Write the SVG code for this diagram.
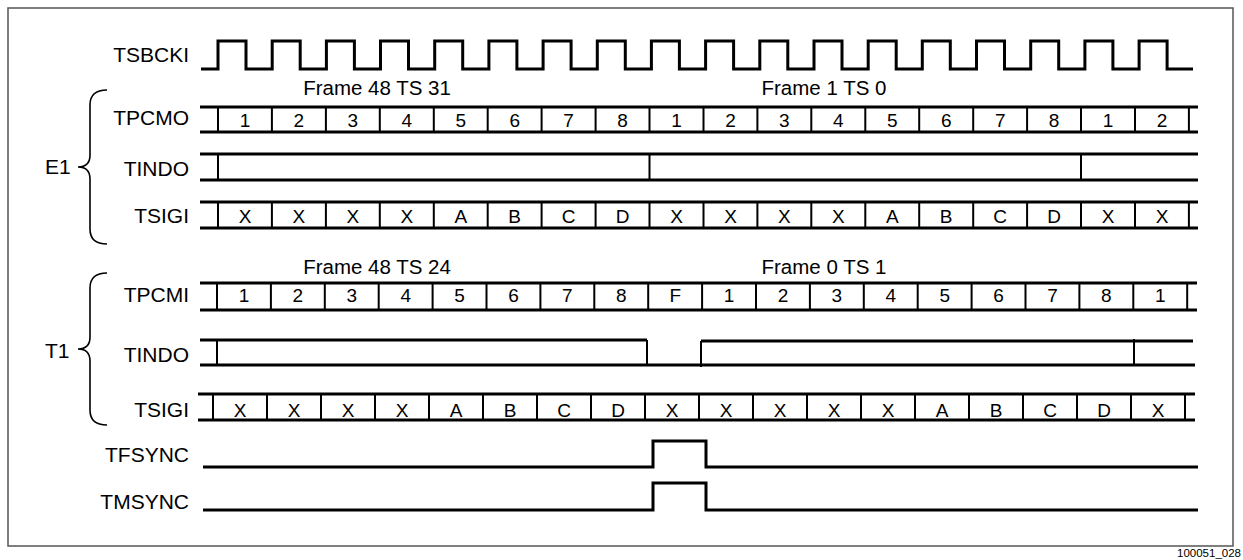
<svg xmlns="http://www.w3.org/2000/svg" width="1243" height="560" viewBox="0 0 1243 560">
<style>
text{font-family:"Liberation Sans",Arial,Helvetica,sans-serif;fill:#000}
.lbl{font-size:21px;text-anchor:end}
.grp{font-size:21px}
.frm{font-size:20.5px;text-anchor:middle}
.cell{font-size:19px;text-anchor:middle}
.sig{fill:none;stroke:#000;stroke-width:3;stroke-linejoin:miter;stroke-linecap:butt}
.div{fill:none;stroke:#000;stroke-width:2}
.brace{fill:none;stroke:#000;stroke-width:1.6}
.frame{fill:#fff;stroke:#555;stroke-width:1.5}
</style>
<rect class="frame" x="8" y="8" width="1225" height="538"/>

<g id="tsbcki">
<text class="lbl" x="189" y="62">TSBCKI</text>
<path class="sig" d="M201 69 H218 V41 H246 V69 H272.2 V41 H300.2 V69 H326.4 V41 H354.4 V69 H380.5 V41 H408.5 V69 H434.7 V41 H462.7 V69 H488.9 V41 H516.9 V69 H543.1 V41 H571.1 V69 H597.3 V41 H625.3 V69 H651.4 V41 H679.4 V69 H705.6 V41 H733.6 V69 H759.8 V41 H787.8 V69 H814 V41 H842 V69 H868.2 V41 H896.2 V69 H922.3 V41 H950.3 V69 H976.5 V41 H1004.5 V69 H1030.7 V41 H1058.7 V69 H1084.9 V41 H1112.9 V69 H1139.1 V41 H1167.1 V69 H1193"/>
</g>

<g id="e1-frames">
<text class="frm" x="377" y="95">Frame 48 TS 31</text>
<text class="frm" x="824" y="95">Frame 1 TS 0</text>
</g>

<g id="e1-tpcmo">
<text class="lbl" x="189" y="125">TPCMO</text>
<path class="sig" d="M200 107 H1198 M200 132 H1198"/>
<path class="div" d="M218 107V132 M271.9 107V132 M325.9 107V132 M379.8 107V132 M433.8 107V132 M487.7 107V132 M541.6 107V132 M595.6 107V132 M649.5 107V132 M703.5 107V132 M757.4 107V132 M811.3 107V132 M865.3 107V132 M919.2 107V132 M973.2 107V132 M1027.1 107V132 M1081 107V132 M1135 107V132 M1188.9 107V132"/>
<g class="cell">
<text x="245" y="126.5">1</text><text x="298.9" y="126.5">2</text><text x="352.9" y="126.5">3</text><text x="406.8" y="126.5">4</text><text x="460.8" y="126.5">5</text><text x="514.7" y="126.5">6</text><text x="568.6" y="126.5">7</text><text x="622.6" y="126.5">8</text><text x="676.5" y="126.5">1</text><text x="730.5" y="126.5">2</text><text x="784.4" y="126.5">3</text><text x="838.3" y="126.5">4</text><text x="892.3" y="126.5">5</text><text x="946.2" y="126.5">6</text><text x="1000.2" y="126.5">7</text><text x="1054.1" y="126.5">8</text><text x="1108" y="126.5">1</text><text x="1162" y="126.5">2</text>
</g>
</g>

<g id="e1-tindo">
<text class="lbl" x="189" y="176">TINDO</text>
<path class="sig" d="M200 154 H1198 M200 180 H1198"/>
<path class="div" d="M218 154V180 M649.5 154V180 M1081 154V180"/>
</g>

<g id="e1-tsigi">
<text class="lbl" x="189" y="223">TSIGI</text>
<path class="sig" d="M200 202 H1198 M200 228 H1198"/>
<path class="div" d="M218 202V228 M271.9 202V228 M325.9 202V228 M379.8 202V228 M433.8 202V228 M487.7 202V228 M541.6 202V228 M595.6 202V228 M649.5 202V228 M703.5 202V228 M757.4 202V228 M811.3 202V228 M865.3 202V228 M919.2 202V228 M973.2 202V228 M1027.1 202V228 M1081 202V228 M1135 202V228 M1188.9 202V228"/>
<g class="cell">
<text x="245" y="222.5">X</text><text x="298.9" y="222.5">X</text><text x="352.9" y="222.5">X</text><text x="406.8" y="222.5">X</text><text x="460.8" y="222.5">A</text><text x="514.7" y="222.5">B</text><text x="568.6" y="222.5">C</text><text x="622.6" y="222.5">D</text><text x="676.5" y="222.5">X</text><text x="730.5" y="222.5">X</text><text x="784.4" y="222.5">X</text><text x="838.3" y="222.5">X</text><text x="892.3" y="222.5">A</text><text x="946.2" y="222.5">B</text><text x="1000.2" y="222.5">C</text><text x="1054.1" y="222.5">D</text><text x="1108" y="222.5">X</text><text x="1162" y="222.5">X</text>
</g>
</g>

<g id="t1-frames">
<text class="frm" x="377" y="274">Frame 48 TS 24</text>
<text class="frm" x="824" y="274">Frame 0 TS 1</text>
</g>

<g id="t1-tpcmi">
<text class="lbl" x="189" y="302">TPCMI</text>
<path class="sig" d="M200 283 H1197 M200 310 H1197"/>
<path class="div" d="M217 283V310 M270.9 283V310 M324.8 283V310 M378.7 283V310 M432.6 283V310 M486.5 283V310 M540.4 283V310 M594.3 283V310 M648.2 283V310 M702.1 283V310 M756 283V310 M809.9 283V310 M863.8 283V310 M917.7 283V310 M971.6 283V310 M1025.5 283V310 M1079.4 283V310 M1133.3 283V310 M1187.2 283V310"/>
<g class="cell">
<text x="244" y="302">1</text><text x="297.9" y="302">2</text><text x="351.8" y="302">3</text><text x="405.7" y="302">4</text><text x="459.6" y="302">5</text><text x="513.5" y="302">6</text><text x="567.4" y="302">7</text><text x="621.3" y="302">8</text><text x="675.2" y="302">F</text><text x="729.1" y="302">1</text><text x="783" y="302">2</text><text x="836.9" y="302">3</text><text x="890.8" y="302">4</text><text x="944.7" y="302">5</text><text x="998.6" y="302">6</text><text x="1052.5" y="302">7</text><text x="1106.4" y="302">8</text><text x="1160.3" y="302">1</text>
</g>
</g>

<g id="t1-tindo">
<text class="lbl" x="189" y="362">TINDO</text>
<path class="sig" d="M200 340 H647 M701 341 H1193 M200 365 H1195"/>
<path class="div" d="M217 340V365 M647 340V365 M701 341V367 M1134 339V365"/>
</g>

<g id="t1-tsigi">
<text class="lbl" x="189" y="417">TSIGI</text>
<path class="sig" d="M198 394 H1195 M198 420 H1195"/>
<path class="div" d="M213 394V420 M267 394V420 M321 394V420 M375 394V420 M429 394V420 M483 394V420 M537 394V420 M591 394V420 M645 394V420 M699 394V420 M753 394V420 M807 394V420 M861 394V420 M915 394V420 M969 394V420 M1023 394V420 M1077 394V420 M1131 394V420 M1185 394V420"/>
<g class="cell">
<text x="240" y="417">X</text><text x="294" y="417">X</text><text x="348" y="417">X</text><text x="402" y="417">X</text><text x="456" y="417">A</text><text x="510" y="417">B</text><text x="564" y="417">C</text><text x="618" y="417">D</text><text x="672" y="417">X</text><text x="726" y="417">X</text><text x="780" y="417">X</text><text x="834" y="417">X</text><text x="888" y="417">X</text><text x="942" y="417">A</text><text x="996" y="417">B</text><text x="1050" y="417">C</text><text x="1104" y="417">D</text><text x="1158" y="417">X</text>
</g>
</g>

<g id="tfsync">
<text class="lbl" x="189" y="462">TFSYNC</text>
<path class="sig" d="M203 467 H653 V441 H706 V467 H1198"/>
</g>

<g id="tmsync">
<text class="lbl" x="189" y="509">TMSYNC</text>
<path class="sig" d="M203 510 H653 V483 H706 V510 H1198"/>
</g>

<g id="connectors">
<path class="brace" d="M107 90 Q90 90 90 105 V155 Q90 167 78 167 Q90 167 90 179 V229 Q90 244 107 244"/>
<path class="brace" d="M107 273 Q90 273 90 288 V337 Q90 349 78 349 Q90 349 90 361 V410 Q90 425 107 425"/>
</g>

<g id="e1-label"><text class="grp" x="45" y="174">E1</text></g>
<g id="t1-label"><text class="grp" x="45" y="358">T1</text></g>

<text x="1241" y="557" style="font-size:11.5px;text-anchor:end">100051_028</text>
</svg>
